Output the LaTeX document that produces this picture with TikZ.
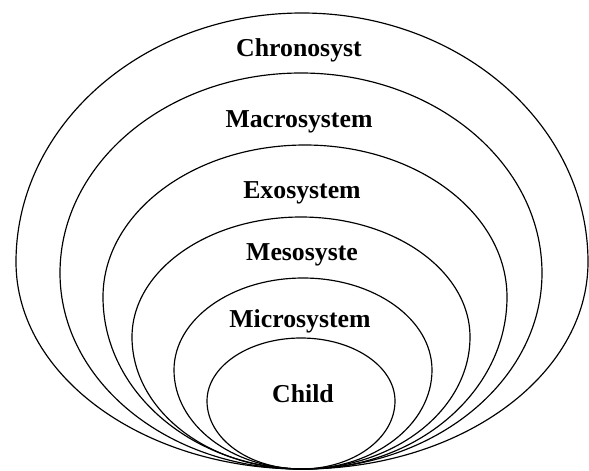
\documentclass[tikz,border=0pt]{standalone}
\usepackage{fontspec}
\setmainfont{Liberation Serif}
\begin{document}
\begin{tikzpicture}[x=0.03cm,y=-0.03cm,
  ring/.style={line width=1pt},
  lbl/.style={font=\fontsize{22}{26}\selectfont\bfseries, inner sep=0pt}]
\useasboundingbox (0,0) rectangle (589,470);

% nested rings, all touching at the bottom
\draw[ring] (16,262) arc[start angle=180, end angle=360, x radius=286, y radius=249]
  arc[start angle=0, end angle=180, x radius=286, y radius=207] -- cycle;
\draw[ring] (60,273) arc[start angle=180, end angle=360, x radius=241, y radius=200]
  arc[start angle=0, end angle=180, x radius=241, y radius=196] -- cycle;
\draw[ring] (103,297) arc[start angle=180, end angle=360, x radius=202, y radius=152]
  arc[start angle=0, end angle=180, x radius=202, y radius=172] -- cycle;
\draw[ring] (132,337) arc[start angle=180, end angle=360, x radius=169, y radius=120]
  arc[start angle=0, end angle=180, x radius=169, y radius=132] -- cycle;
\draw[ring] (174,370) arc[start angle=180, end angle=360, x radius=129, y radius=92]
  arc[start angle=0, end angle=180, x radius=129, y radius=99] -- cycle;
\draw[ring] (207,401) arc[start angle=180, end angle=360, x radius=94, y radius=63]
  arc[start angle=0, end angle=180, x radius=94, y radius=68] -- cycle;

\node[lbl] (chrono) at (299,50) {Chronosyst};
\node[lbl] (macro) at (299,122) {Macrosystem};
\node[lbl] (exo) at (302,193) {Exosystem};
\node[lbl] (meso) at (302,255) {Mesosyste};
\node[lbl] (micro) at (300,321) {Microsystem};
\node[lbl] (child) at (303,394) {Child};
\end{tikzpicture}
\end{document}
